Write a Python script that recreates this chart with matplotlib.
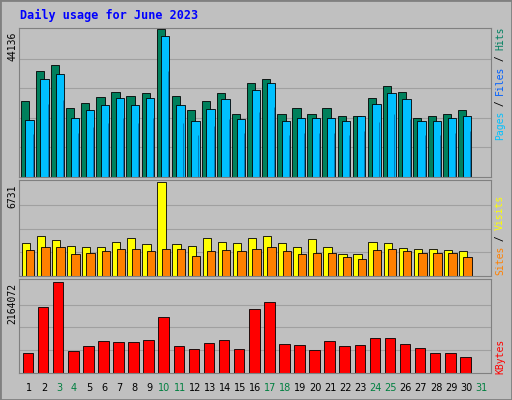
import numpy as np
import matplotlib.pyplot as plt
from matplotlib.patches import Rectangle

days = list(range(1, 32))
weekend = [3, 4, 10, 11, 17, 18, 24, 25, 31]

# values (day 31 has no data)
hits = [22700, 31800, 33600, 20600, 22100, 23900, 25400, 24200, 25100, 44136,
        24200, 19900, 22700, 25100, 18900, 28000, 29300, 18900, 20600, 18900,
        20600, 18300, 18300, 23600, 27300, 25400, 17700, 18300, 18900, 20000, 0]
files = [17100, 29300, 30800, 17700, 19900, 21500, 23600, 21500, 23600, 42300,
         21500, 16800, 20300, 23300, 17400, 26000, 28100, 16800, 17700, 17700,
         17700, 16800, 18300, 21800, 25100, 23300, 16800, 16800, 17700, 18300, 0]
pages = [f * 0.75 for f in files]
visits = [2340, 2850, 2560, 2120, 2050, 2050, 2410, 2710, 2270, 6731,
          2270, 2120, 2710, 2410, 2340, 2710, 2850, 2340, 2050, 2630,
          2050, 1540, 1540, 2410, 2340, 1980, 1900, 1900, 1830, 1760, 0]
sites = [1830, 2050, 2050, 1540, 1610, 1760, 1900, 1900, 1760, 1900,
         1900, 1460, 1760, 1830, 1760, 1900, 2050, 1760, 1540, 1680,
         1610, 1390, 1240, 1830, 1900, 1760, 1680, 1680, 1680, 1390, 0]
kbytes = [486000, 1556000, 2164072, 510000, 632000, 754000, 730000, 730000, 778000, 1337000,
          632000, 559000, 705000, 778000, 559000, 1508000, 1678000, 681000, 656000, 535000,
          754000, 632000, 656000, 827000, 827000, 681000, 583000, 486000, 486000, 389000, 0]

W, H = 512, 400
fig = plt.figure(figsize=(W / 100, H / 100), dpi=100)
fig.patch.set_facecolor('#c0c0c0')
fig.add_artist(Rectangle((0, 0), 1, 1, transform=fig.transFigure, fill=False,
                         edgecolor='#808080', lw=2))
fig.text(20 / W, 1 - 15 / H, 'Daily usage for June 2023', color='#0000ff',
         family='DejaVu Sans Mono', weight='bold', fontsize=8.5, va='center')

x = np.array(days)


def panel(top, bot):
    ax = fig.add_axes([19 / W, 1 - bot / H, 472 / W, (bot - top) / H])
    ax.set_facecolor('#c0c0c0')
    ax.set_xlim(0.35, 31.65)
    ax.set_xticks([])
    ax.set_yticks([])
    for s in ax.spines.values():
        s.set_color('#808080')
    return ax


ax1 = panel(28, 177)
ax1.set_ylim(0, 44136 * 1.01)
for v in [0.2, 0.4, 0.6, 0.8]:
    ax1.axhline(44136 * v, color='#a0a0a0', lw=0.8, zorder=0)
ax1.bar(x - 0.25, hits, 0.55, color='#00805c', edgecolor='black', lw=0.6)
ax1.bar(x + 0.05, files, 0.55, color='#00c0ff', edgecolor='black', lw=0.6)
ax1.bar(x + 0.25, pages, 0.0, color='#00c0ff', edgecolor='#0060a0', lw=0.5)

ax2 = panel(180, 276)
ax2.set_ylim(0, 6731 * 1.02)
for v in [0.25, 0.5, 0.75]:
    ax2.axhline(6731 * v, color='#a0a0a0', lw=0.8, zorder=0)
ax2.bar(x - 0.2, visits, 0.55, color='#ffff00', edgecolor='black', lw=0.6)
ax2.bar(x + 0.1, sites, 0.55, color='#ff8000', edgecolor='black', lw=0.6)

ax3 = panel(279, 373)
ax3.set_ylim(0, 2164072 * 1.03)
for v in [0.25, 0.5, 0.75]:
    ax3.axhline(2164072 * v, color='#a0a0a0', lw=0.8, zorder=0)
ax3.bar(x - 0.05, kbytes, 0.7, color='#ff0000', edgecolor='black', lw=0.6)

for d in days:
    fig.text((19 + (d - 0.35) / 31.3 * 472) / W, 1 - 388 / H, str(d),
             color='#008040' if d in weekend else 'black', ha='center', va='center',
             fontsize=7)

for ax, top, lab in [(ax1, 28, '44136'), (ax2, 180, '6731'), (ax3, 279, '2164072')]:
    fig.text(12 / W, 1 - (top + 4) / H, lab, rotation=90, ha='center', va='top',
             fontsize=7, family='DejaVu Sans Mono')

CW = 5.6


def right_label(parts, ycenter):
    txt = ' / '.join(p for p, _ in parts)
    y = ycenter + len(txt) * CW / 2
    for i, (p, c) in enumerate(parts):
        fig.text(500 / W, 1 - y / H, p, rotation=90, color=c, ha='center', va='bottom',
                 fontsize=7, family='DejaVu Sans Mono')
        y -= len(p) * CW
        if i < len(parts) - 1:
            fig.text(500 / W, 1 - y / H, ' / ', rotation=90, color='black', ha='center',
                     va='bottom', fontsize=7, family='DejaVu Sans Mono')
            y -= 3 * CW


right_label([('Pages', '#00c0ff'), ('Files', '#0060ff'), ('Hits', '#008060')], 84)
right_label([('Sites', '#ff8000'), ('Visits', '#ffff00')], 236)
right_label([('KBytes', '#ff0000')], 357)

fig.savefig('out.png', dpi=100, facecolor=fig.get_facecolor())
